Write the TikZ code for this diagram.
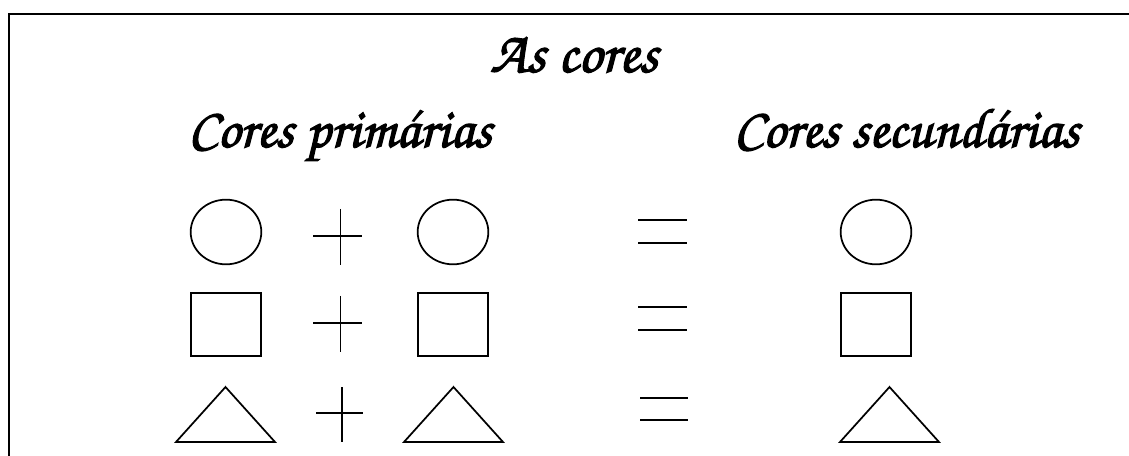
\documentclass[tikz,border=0pt]{standalone}
\usepackage[T1]{fontenc}
\usetikzlibrary{shapes.geometric}
\newcommand{\mycursive}{\fontencoding{T1}\fontfamily{pzc}\fontseries{mb}\fontshape{it}\selectfont}
\newcommand{\heavytext}[1]{\special{pdf:literal direct 2 Tr 0.9 w}#1\special{pdf:literal direct 0 Tr}}
\tikzset{
  shapeline/.style={draw=black, line width=1.3pt},
  oval/.style={shapeline, ellipse, inner sep=0pt, minimum width=53pt, minimum height=48.5pt},
  sqbox/.style={shapeline, rectangle, inner sep=0pt, minimum width=53pt, minimum height=47.75pt},
  sign/.style={draw=black, line width=1.3pt},
  heading/.style={inner sep=0pt, anchor=base, font=\mycursive\fontsize{42}{48}\selectfont},
  titletext/.style={heading, font=\mycursive\fontsize{44}{50}\selectfont},
}
\begin{document}
\begin{tikzpicture}[x=0.75pt, y=-0.75pt]
\useasboundingbox (0,0) rectangle (1129,456);
% frame
\draw[line width=1.6pt] (9,470) -- (9,14) -- (1140,14);
% headings
\node[titletext] (title) at (574,72) {\heavytext{As cores}};
\node[heading] (prim) at (340,147) {\heavytext{Cores prim\'arias}};
\node[heading] (sec) at (906.5,147) {\heavytext{Cores secund\'arias}};
% row 1: circles
\node[oval] (c1) at (226,232) {};
\node[oval] (c2) at (453,232) {};
\node[oval] (c3) at (876,232) {};
% row 2: squares
\node[sqbox] (s1) at (226,324.5) {};
\node[sqbox] (s2) at (453,324.5) {};
\node[sqbox] (s3) at (876,324.5) {};
% row 3: triangles
\draw[shapeline, line join=miter] (176,442) -- (225.5,387) -- (275,442) -- cycle;
\draw[shapeline, line join=miter] (404,442) -- (453.5,387) -- (503,442) -- cycle;
\draw[shapeline, line join=miter] (840,442) -- (889.5,387) -- (939,442) -- cycle;
% plus signs
\draw[sign] (313,236) -- (362,236) (340.5,209) -- (340.5,265);
\draw[sign] (313,323) -- (362,323) (340.5,296) -- (340.5,352);
\draw[sign] (316,413) -- (363,413) (342,387) -- (342,442);
% equals signs
\draw[sign] (638,220) -- (687,220) (638,243) -- (687,243);
\draw[sign] (638,307) -- (687,307) (638,330) -- (687,330);
\draw[sign] (640,398) -- (688,398) (640,420) -- (688,420);
\end{tikzpicture}
\end{document}
